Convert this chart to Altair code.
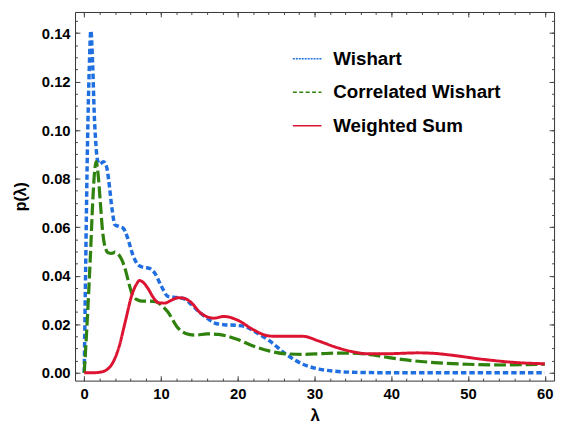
import altair as alt
import pandas as pd

series_names = ["Wishart", "Correlated Wishart", "Weighted Sum"]
series_colors = ["#1f6fe0", "#2f820d", "#dc1432"]

wishart_x = [0, 0.2, 0.43, 0.65, 0.86, 1.1, 1.3, 1.5, 1.7, 2.0, 2.5, 2.9, 3.2, 3.6, 4.0,
             4.5, 5.1, 5.6, 6.4, 7.0, 7.6, 8.5, 9.2, 10.0, 10.9, 12.0, 13.0, 14.0, 15.0, 16.0,
             17.0, 18.2, 19.9, 21.0, 22.3, 24.2, 26.3, 28.5, 30.6, 32.7, 35.0, 40.0, 50.0, 60.0]
wishart_y = [0, 0.047, 0.095, 0.125, 0.141, 0.127, 0.107, 0.095, 0.088, 0.086, 0.087, 0.085, 0.079, 0.068, 0.061,
             0.0603, 0.0595, 0.056, 0.048, 0.0445, 0.0435, 0.043, 0.041, 0.036, 0.0315, 0.031, 0.0305, 0.028, 0.025, 0.0225,
             0.0205, 0.0198, 0.0195, 0.019, 0.0168, 0.013, 0.0076, 0.0035, 0.0015, 0.0006, 0.0002, 0.0, 0.0, 0.0]

corr_x = [0, 0.4, 0.8, 1.1, 1.35, 1.55, 1.8, 2.1, 2.4, 2.7, 3.1, 3.6, 4.0, 4.4, 4.9,
          5.4, 5.8, 6.3, 6.8, 7.5, 8.5, 9.3, 10.0, 10.9, 12.2, 13.2, 14.5, 16.0, 17.5, 18.5,
          20.0, 22.0, 24.2, 26.3, 28.5, 30.6, 32.7, 34.9, 37.0, 39.2, 41.3, 45.6, 49.9, 54.1, 60.0]
corr_y = [0, 0.022, 0.048, 0.07, 0.083, 0.087, 0.082, 0.07, 0.058, 0.052, 0.0495, 0.0492, 0.0497, 0.049, 0.0465,
          0.042, 0.037, 0.032, 0.0302, 0.0295, 0.0295, 0.0293, 0.028, 0.025, 0.0185, 0.0162, 0.0155, 0.016, 0.0158, 0.0152,
          0.0137, 0.011, 0.0089, 0.0078, 0.0076, 0.0078, 0.0081, 0.0081, 0.0076, 0.0065, 0.0055, 0.0042, 0.0035, 0.0032, 0.0035]

wsum_x = [0, 1.0, 2.0, 2.8, 3.6, 4.5, 5.35, 6.2, 6.8, 7.2, 7.7, 8.35, 9.0, 9.7, 10.5,
          11.3, 12.2, 13.0, 13.8, 15.2, 16.9, 18.2, 19.9, 22.05, 23.8, 25.0, 26.3, 28.5, 30.6, 32.7,
          34.9, 37.0, 39.2, 41.3, 43.4, 45.5, 47.7, 52.0, 56.3, 60.0]
wsum_y = [0, 0.0, 0.0002, 0.001, 0.0035, 0.0103, 0.0211, 0.032, 0.0365, 0.038, 0.0372, 0.0345, 0.031, 0.0288, 0.0287,
          0.0298, 0.0309, 0.0307, 0.0293, 0.0245, 0.0225, 0.0232, 0.0218, 0.0177, 0.0153, 0.015, 0.015, 0.015, 0.013, 0.0106,
          0.0087, 0.0078, 0.0078, 0.008, 0.0082, 0.008, 0.0073, 0.0055, 0.0042, 0.0037]

x_ticks = [0, 10, 20, 30, 40, 50, 60]
y_ticks = [0.0, 0.02, 0.04, 0.06, 0.08, 0.10, 0.12, 0.14]
x_minor = [0, 2, 4, 6, 8, 10, 12, 14, 16, 18, 20, 22, 24, 26, 28, 30, 32, 34, 36, 38, 40,
           42, 44, 46, 48, 50, 52, 54, 56, 58, 60]
y_minor = [0.0, 0.005, 0.01, 0.015, 0.02, 0.025, 0.03, 0.035, 0.04, 0.045, 0.05, 0.055, 0.06,
           0.065, 0.07, 0.075, 0.08, 0.085, 0.09, 0.095, 0.10, 0.105, 0.11, 0.115, 0.12, 0.125,
           0.13, 0.135, 0.14, 0.145]

rows = []
for name, xs_, ys_ in zip(series_names, [wishart_x, corr_x, wsum_x], [wishart_y, corr_y, wsum_y]):
    for a, b in zip(xs_, ys_):
        rows.append({"series": name, "x": a, "y": b})
df = pd.DataFrame(rows)

xsc = alt.Scale(domain=[-1.2, 61.2], nice=False, zero=False)
ysc = alt.Scale(domain=[-0.00325, 0.1487], nice=False, zero=False)
csc = alt.Scale(domain=series_names, range=series_colors)

FONT = "Liberation Sans"
MAJ = 5
MIN = 2.5

legend = alt.Legend(
    title=None, orient="none", legendX=220, legendY=32, padding=0,
    labelFont=FONT, labelFontSize=19, labelFontWeight="bold", labelColor="#000000",
    symbolType="stroke", symbolSize=841, symbolStrokeWidth=1.5, labelOffset=11,
    rowPadding=8, labelLimit=400,
)

base = alt.Chart(df)

lines = base.mark_line(interpolate="monotone").encode(
    x=alt.X("x:Q", scale=xsc, axis=alt.Axis(
        values=x_ticks, orient="bottom", offset=-MAJ, tickSize=MAJ, domain=False, grid=False,
        labelPadding=6, title="λ", titlePadding=6, titleFontSize=17, format="d")),
    y=alt.Y("y:Q", scale=ysc, axis=alt.Axis(
        values=y_ticks, orient="left", offset=-MAJ, tickSize=MAJ, domain=False, grid=False,
        labelPadding=5, format=".2f", title="p(λ)", titlePadding=13, titleFontSize=16)),
    color=alt.Color("series:N", scale=csc, legend=None),
    strokeDash=alt.StrokeDash("series:N", scale=alt.Scale(domain=series_names,
                                                          range=[[5.5, 3], [12, 4], [1, 0]]),
                              legend=None),
    strokeWidth=alt.StrokeWidth("series:N", scale=alt.Scale(domain=series_names, range=[3.5, 3, 2.7]),
                                legend=None),
)

# empty layer that only carries the legend (thin legend symbols with short dashes)
legend_layer = base.transform_filter("datum.x < -100").mark_line().encode(
    x=alt.X("x:Q", scale=xsc, axis=None),
    y=alt.Y("y:Q", scale=ysc, axis=None),
    color=alt.Color("series:N", scale=csc, legend=legend),
    strokeDash=alt.StrokeDash("series:N", scale=alt.Scale(domain=series_names,
                                                          range=[[2, 1], [4, 2.5], [1, 0]]),
                              legend=legend),
)

ghost = base.mark_line(strokeOpacity=0)

major_tr = ghost.encode(
    x=alt.X("x:Q", scale=xsc, axis=alt.Axis(values=x_ticks, orient="top", offset=-MAJ, tickSize=MAJ,
                                            labels=False, domain=False, grid=False, title=None)),
    y=alt.Y("y:Q", scale=ysc, axis=alt.Axis(values=y_ticks, orient="right", offset=-MAJ, tickSize=MAJ,
                                            labels=False, domain=False, grid=False, title=None)),
)
minor_bl = ghost.encode(
    x=alt.X("x:Q", scale=xsc, axis=alt.Axis(values=x_minor, orient="bottom", offset=-MIN, tickSize=MIN,
                                            labels=False, domain=False, grid=False, title=None)),
    y=alt.Y("y:Q", scale=ysc, axis=alt.Axis(values=y_minor, orient="left", offset=-MIN, tickSize=MIN,
                                            labels=False, domain=False, grid=False, title=None)),
)
minor_tr = ghost.encode(
    x=alt.X("x:Q", scale=xsc, axis=alt.Axis(values=x_minor, orient="top", offset=-MIN, tickSize=MIN,
                                            labels=False, domain=False, grid=False, title=None)),
    y=alt.Y("y:Q", scale=ysc, axis=alt.Axis(values=y_minor, orient="right", offset=-MIN, tickSize=MIN,
                                            labels=False, domain=False, grid=False, title=None)),
)

chart = alt.layer(lines, legend_layer, major_tr, minor_bl, minor_tr).resolve_axis(
    x="independent", y="independent"
).resolve_scale(
    strokeDash="independent", color="independent"
).properties(
    width=486, height=374,
    autosize=alt.AutoSizeParams(type="none"),
    padding={"left": 68, "top": 1, "right": 4, "bottom": 44},
).configure_view(
    stroke="#333333", strokeWidth=1
).configure_axis(
    labelFont=FONT, labelFontSize=15, labelFontWeight="bold", labelColor="#000000",
    titleFont=FONT, titleFontWeight="bold", titleColor="#000000",
    tickColor="#444444", tickWidth=1
)

chart.save("out.html", embed_options={"renderer": "svg", "actions": False})
